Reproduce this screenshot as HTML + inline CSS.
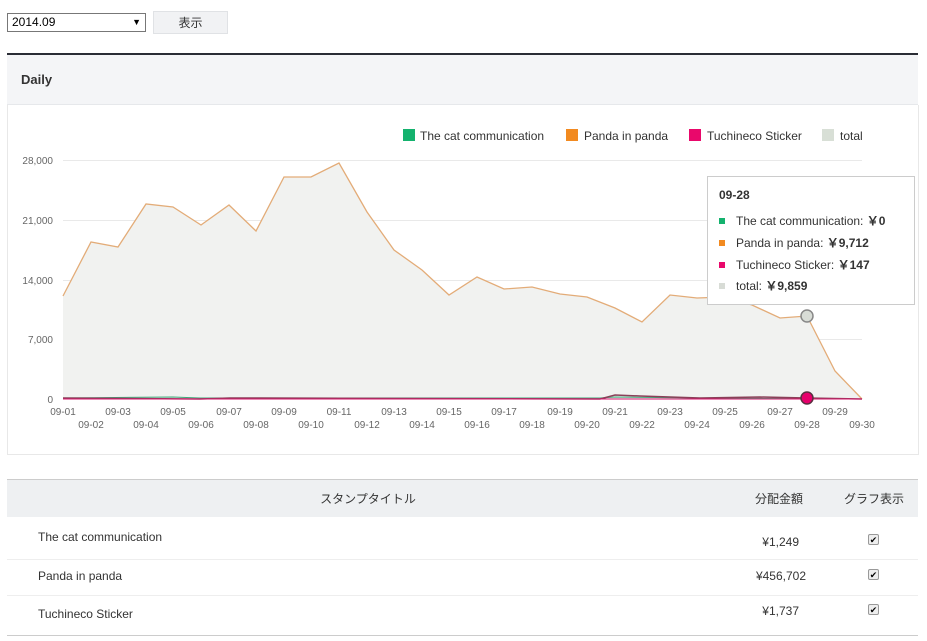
<!DOCTYPE html>
<html><head><meta charset="utf-8"><style>
body{margin:0;width:927px;height:641px;background:#fff;font-family:"Liberation Sans","Noto Sans CJK JP",sans-serif;position:relative;overflow:hidden}
.abs{position:absolute}
</style></head><body>
<div class="abs" style="left:7px;top:13px;width:139px;height:17px;border:1px solid #777;font-size:12px;line-height:17px;box-sizing:border-box;padding-left:4px;height:19px">2014.09<span style="position:absolute;right:4px;font-size:9px">▼</span></div>
<div class="abs" style="left:153px;top:11px;width:75px;height:23px;background:#f1f2f4;border:1px solid #e0e2e5;box-sizing:border-box;font-size:12px;line-height:22px;text-align:center;color:#333">表示</div>
<div class="abs" style="left:7px;top:53px;width:911px;height:2px;background:#2a2d35"></div>
<div class="abs" style="left:7px;top:55px;width:911px;height:50px;background:#f4f5f7;border-bottom:1px solid #e6e8eb;box-sizing:border-box"></div>
<div class="abs" style="left:21px;top:72px;font-size:13px;font-weight:bold;color:#333">Daily</div>
<div class="abs" style="left:7px;top:105px;width:912px;height:350px;border:1px solid #e8e8e8;border-top:none;box-sizing:border-box"></div>
<svg class="abs" style="left:0;top:0" width="927" height="460" font-family="Liberation Sans, sans-serif">
<g stroke="#e9e9e9" stroke-width="1">
<line x1="63" y1="160.5" x2="862" y2="160.5"/><line x1="63" y1="220.5" x2="862" y2="220.5"/><line x1="63" y1="280.5" x2="862" y2="280.5"/><line x1="63" y1="339.5" x2="862" y2="339.5"/>
</g>
<g font-size="10" fill="#666" text-anchor="end">
<text x="53" y="164">28,000</text><text x="53" y="224">21,000</text><text x="53" y="284">14,000</text><text x="53" y="343">7,000</text><text x="53" y="403">0</text>
</g>
<polygon fill="#f1f2f0" points="63,399 63,296 91,242 118,247 146,204 173,207 201,225 229,205 256,231 284,177 311,177 339,163 367,212 394,250 422,270 449,295 477,277 504,289 532,287 560,294 587,297 615,308 642,322 670,295 697,298 725,297 752,305 780,318 807,316 835,371 862,399"/>
<polyline fill="none" stroke="#e3ac78" stroke-width="1.3" points="63,296 91,242 118,247 146,204 173,207 201,225 229,205 256,231 284,177 311,177 339,163 367,212 394,250 422,270 449,295 477,277 504,289 532,287 560,294 587,297 615,308 642,322 670,295 697,298 725,297 752,305 780,318 807,316 835,371 862,399"/>
<polyline fill="none" stroke="#3fa878" stroke-width="1" points="63,398 173,397 200,398 600,398 615,397 700,398 862,399"/>
<polyline fill="none" stroke="#8a4058" stroke-width="1.5" points="63,398 200,399 230,398 260,398 600,399 615,395 640,396 700,398 760,397 807,398 862,399"/>
<line x1="63" y1="399" x2="862" y2="399" stroke="#d7146b" stroke-width="1"/>
<circle cx="807" cy="316" r="6" fill="#d8dcd6" stroke="#888" stroke-width="1.5"/>
<circle cx="807" cy="398" r="6" fill="#e6006b" stroke="#5a3040" stroke-width="1.5"/>
<g font-size="10" fill="#666" text-anchor="middle">
<text x="63" y="415">09-01</text><text x="118" y="415">09-03</text><text x="173" y="415">09-05</text><text x="229" y="415">09-07</text><text x="284" y="415">09-09</text><text x="339" y="415">09-11</text><text x="394" y="415">09-13</text><text x="449" y="415">09-15</text><text x="504" y="415">09-17</text><text x="560" y="415">09-19</text><text x="615" y="415">09-21</text><text x="670" y="415">09-23</text><text x="725" y="415">09-25</text><text x="780" y="415">09-27</text><text x="835" y="415">09-29</text>
<text x="91" y="428">09-02</text><text x="146" y="428">09-04</text><text x="201" y="428">09-06</text><text x="256" y="428">09-08</text><text x="311" y="428">09-10</text><text x="367" y="428">09-12</text><text x="422" y="428">09-14</text><text x="477" y="428">09-16</text><text x="532" y="428">09-18</text><text x="587" y="428">09-20</text><text x="642" y="428">09-22</text><text x="697" y="428">09-24</text><text x="752" y="428">09-26</text><text x="807" y="428">09-28</text><text x="862" y="428">09-30</text>
</g>
<g font-size="12" fill="#333">
<rect x="403" y="129" width="12" height="12" fill="#14b26e"/><text x="420" y="140">The cat communication</text>
<rect x="566" y="129" width="12" height="12" fill="#f28a20"/><text x="584" y="140">Panda in panda</text>
<rect x="689" y="129" width="12" height="12" fill="#e9086b"/><text x="707" y="140">Tuchineco Sticker</text>
<rect x="822" y="129" width="12" height="12" fill="#d8dfd6"/><text x="840" y="140">total</text>
</g>
<rect x="707.5" y="176.5" width="207" height="128" fill="#fff" stroke="#ccc"/>
<g font-size="12" fill="#333">
<text x="719" y="199" font-weight="bold">09-28</text>
<rect x="719" y="218" width="6" height="6" fill="#14b26e"/><text x="736" y="225">The cat communication: <tspan font-weight="bold">￥0</tspan></text>
<rect x="719" y="240" width="6" height="6" fill="#f28a20"/><text x="736" y="247">Panda in panda: <tspan font-weight="bold">￥9,712</tspan></text>
<rect x="719" y="262" width="6" height="6" fill="#e9086b"/><text x="736" y="269">Tuchineco Sticker: <tspan font-weight="bold">￥147</tspan></text>
<rect x="719" y="283" width="6" height="6" fill="#d8dcd6"/><text x="736" y="290">total: <tspan font-weight="bold">￥9,859</tspan></text>
</g>
</svg>
<div class="abs" style="left:7px;top:479px;width:911px;height:1px;background:#ccc"></div>
<div class="abs" style="left:7px;top:480px;width:911px;height:37px;background:#eef0f2"></div>
<div class="abs" style="left:0;top:490px;width:736px;text-align:center;font-size:12px;color:#333">スタンプタイトル</div>
<div class="abs" style="left:755px;top:490px;font-size:12px;color:#333">分配金額</div>
<div class="abs" style="left:844px;top:490px;font-size:12px;color:#333">グラフ表示</div>
<div class="abs" style="left:7px;top:559px;width:911px;height:1px;background:#eee"></div>
<div class="abs" style="left:7px;top:595px;width:911px;height:1px;background:#eee"></div>
<div class="abs" style="left:7px;top:635px;width:911px;height:1px;background:#ccc"></div>
<div class="abs" style="left:38px;top:530px;font-size:12px;color:#333">The cat communication</div>
<div class="abs" style="left:38px;top:569px;font-size:12px;color:#333">Panda in panda</div>
<div class="abs" style="left:38px;top:607px;font-size:12px;color:#333">Tuchineco Sticker</div>
<div class="abs" style="left:700px;width:99px;text-align:right;top:535px;font-size:12px;color:#333">¥1,249</div>
<div class="abs" style="left:700px;width:106px;text-align:right;top:569px;font-size:12px;color:#333">¥456,702</div>
<div class="abs" style="left:700px;width:99px;text-align:right;top:604px;font-size:12px;color:#333">¥1,737</div>
<div class="abs" style="left:868px;top:534px;width:11px;height:11px;border:1px solid #999;border-radius:2px;box-sizing:border-box;background:#eee;font-size:9px;line-height:10px;text-align:center">✔</div>
<div class="abs" style="left:868px;top:569px;width:11px;height:11px;border:1px solid #999;border-radius:2px;box-sizing:border-box;background:#eee;font-size:9px;line-height:10px;text-align:center">✔</div>
<div class="abs" style="left:868px;top:604px;width:11px;height:11px;border:1px solid #999;border-radius:2px;box-sizing:border-box;background:#eee;font-size:9px;line-height:10px;text-align:center">✔</div>
</body></html>
